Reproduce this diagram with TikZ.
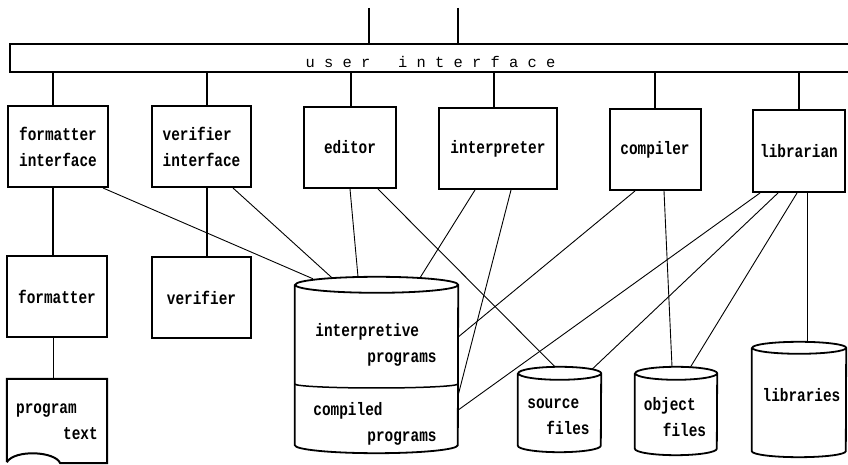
\documentclass[tikz,border=0pt]{standalone}
\usepackage{fontspec}
\newfontfamily\boxfont{Liberation Mono}[FakeStretch=0.8]
\newfontfamily\barfont{Liberation Mono}

% outline of a store: node name, x radius, y radius
\newcommand{\drum}[3]{%
  \draw[line width=1.8pt] ([yshift=-#3]#1.north west) -- ([yshift=#3]#1.south west)
    arc[start angle=180, end angle=360, x radius=#2, y radius=#3]
    -- ([yshift=-#3]#1.north east)
    arc[start angle=0, end angle=180, x radius=#2, y radius=#3]
    arc[start angle=180, end angle=360, x radius=#2, y radius=#3];}

\begin{document}
\begin{tikzpicture}[x=1pt, y=1pt,
    box/.style={draw, line width=2pt, minimum width=#1, minimum height=81pt,
      inner sep=0pt, align=left, font=\boxfont\bfseries\fontsize{18}{26}\selectfont},
    box/.default=100pt,
    store/.style={inner sep=0pt},
    lbl/.style={inner sep=0pt, align=left, font=\boxfont\bfseries\fontsize{18}{26}\selectfont},
    drop/.style={line width=1.8pt},
    link/.style={line width=0.9pt}]
  \useasboundingbox (0,0) rectangle (848,465);

  % Draw user interface bar
  \node[draw, line width=2pt, minimum width=860pt, minimum height=28pt, anchor=west] (ui) at (9,407) {};
  \node[anchor=base, inner sep=0pt, font=\barfont\fontsize{15.4}{18}\selectfont] (uitext) at (430.5,397)
    {u\ s\ e\ r\ \ \ i\ n\ t\ e\ r\ f\ a\ c\ e};
  \coordinate (in1) at (369,457);
  \coordinate (in2) at (458,457);
  \draw[drop] (in1) -- (in1 |- ui.north);
  \draw[drop] (in2) -- (in2 |- ui.north);

  % Draw boxes
  \node[box] (fmtif) at (58,318.5) {formatter\\interface};
  \node[box=99pt] (verif) at (201.5,318.5) {verifier\\interface};
  \node[box=92pt] (editor) at (350,317.5) {editor};
  \node[box=118pt] (interp) at (498,316.5) {interpreter};
  \node[box=91pt] (compiler) at (655,315.5) {compiler};
  \node[box=92pt, minimum height=82pt] (librarian) at (799,314) {librarian};
  \node[box] (formatter) at (57,168.5) {formatter};
  \node[box=99pt] (verifier) at (201.5,167.5) {verifier};

  % Draw program text
  \node[lbl, minimum width=100pt, minimum height=86pt] (ptext) at (57,43) {program\\\hspace*{47pt}text};
  \draw[line width=2pt] ([yshift=3pt]ptext.south west) -- (ptext.north west) -- (ptext.north east)
    -- ([yshift=2pt]ptext.south east) -- ([xshift=-47pt,yshift=2pt]ptext.south east)
    .. controls ([xshift=-52pt,yshift=14pt]ptext.south east) and ([xshift=8pt,yshift=16pt]ptext.south west)
    .. ([yshift=3pt]ptext.south west);

  % Draw stores
  \node[store, minimum width=163pt, minimum height=176pt] (pgm) at (376.5,100) {};
  \drum{pgm}{81.5pt}{8pt}
  \draw[line width=1.5pt] ([yshift=-19pt]pgm.west)
    arc[start angle=180, end angle=360, x radius=81.5pt, y radius=4pt];
  \node[lbl] (pgmup) at (376,120.5) {interpretive\\\hspace*{52pt}programs};
  \node[lbl] (pgmlow) at (375,41) {compiled\\\hspace*{54pt}programs};
  \node[store, minimum width=83pt, minimum height=85pt] (src) at (559.5,55.5) {};
  \drum{src}{41.5pt}{6.5pt}
  \node[lbl] (srctext) at (558.5,48) {source\\\hspace*{19pt}files};
  \node[store, minimum width=82pt, minimum height=88pt] (obj) at (676,54) {};
  \drum{obj}{41pt}{6.5pt}
  \node[lbl] (objtext) at (675,48) {object\\\hspace*{19pt}files};
  \node[store, minimum width=94pt, minimum height=115pt] (libs) at (799,65.5) {};
  \drum{libs}{47pt}{6pt}
  \node[lbl] (libtext) at (801.5,70) {libraries};

  % Draw drops from the bar
  \draw[drop] ([xshift=-5pt]fmtif.north) -- ([xshift=-5pt]fmtif.north |- ui.south);
  \draw[drop] ([xshift=5.5pt]verif.north) -- ([xshift=5.5pt]verif.north |- ui.south);
  \draw[drop] ([xshift=1pt]editor.north) -- ([xshift=1pt]editor.north |- ui.south);
  \draw[drop] ([xshift=-4pt]interp.north) -- ([xshift=-4pt]interp.north |- ui.south);
  \draw[drop] (compiler.north) -- (compiler.north |- ui.south);
  \draw[drop] (librarian.north) -- (librarian.north |- ui.south);
  \draw[drop] ([xshift=-5pt]fmtif.south) -- ([xshift=-5pt]fmtif.south |- formatter.north);
  \draw[drop] ([xshift=5.5pt]verif.south) -- ([xshift=5.5pt]verif.south |- verifier.north);
  \draw[link] ([xshift=-4pt]formatter.south) -- ([xshift=-4pt]formatter.south |- ptext.north);

  % Draw links to the stores
  \draw[link] ([xshift=-6pt]fmtif.south east) -- ([xshift=-63.5pt,yshift=-2pt]pgm.north);
  \draw[link] ([xshift=31.5pt]verif.south) -- ([xshift=-44.5pt,yshift=-1pt]pgm.north);
  \draw[link] (editor.south) -- ([xshift=-18.5pt]pgm.north);
  \draw[link] ([xshift=28pt]editor.south) -- ([xshift=-4.5pt]src.north);
  \draw[link] ([xshift=-23pt]interp.south) -- ([xshift=43.5pt,yshift=-1pt]pgm.north);
  \draw[link] ([xshift=13pt]interp.south) -- ([yshift=-30pt]pgm.east);
  \draw[link] ([xshift=-20pt]compiler.south) -- ([yshift=28pt]pgm.east);
  \draw[link] ([xshift=9pt]compiler.south) -- ([xshift=-4pt]obj.north);
  \draw[link] ([xshift=-39pt]librarian.south) -- ([yshift=-45pt]pgm.east);
  \draw[link] ([xshift=-21pt]librarian.south) -- ([xshift=32.5pt,yshift=-2.5pt]src.north);
  \draw[link] ([xshift=-2pt]librarian.south) -- ([xshift=14pt,yshift=-1pt]obj.north);
  \draw[link] ([xshift=8pt]librarian.south) -- ([xshift=8pt]libs.north);
\end{tikzpicture}
\end{document}
